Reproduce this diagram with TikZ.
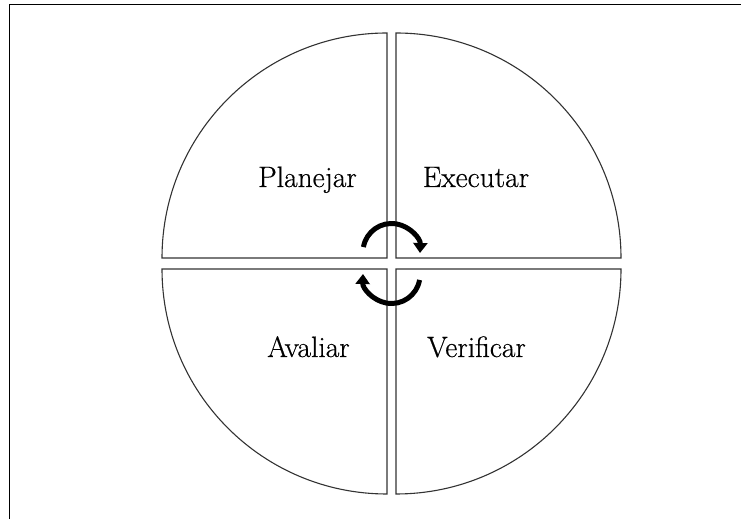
\documentclass[tikz,border=0pt]{standalone}
\usepackage{fontspec}
\usepackage{tikz}
\usetikzlibrary{arrows.meta,calc}
\newfontfamily\pdfont{Latin Modern Roman}[FakeBold=0.5]
\definecolor{pdink}{HTML}{000000}
\definecolor{pdline}{HTML}{333333}
\tikzset{
  pdquad/.style={draw=pdline, line width=1.1pt, fill=white},
  pdlabel/.style={font=\pdfont\fontsize{29.5}{35}\selectfont, text=pdink, inner sep=0pt, anchor=base},
  pdcycle/.style={-{Triangle[length=10pt,width=14pt]}, line width=5pt, draw=pdink},
  pdframe/.style={draw=pdink, line width=1pt}
}

\begin{document}
\begin{tikzpicture}[x=1pt, y=1pt]
\useasboundingbox (0,0) rectangle (741,519);
\draw[pdframe] (9,0) -- (9,514) -- (741,514);
\coordinate (tl) at (387,261);
\coordinate (tr) at (396,261);
\coordinate (bl) at (387,250);
\coordinate (br) at (396,250);
\draw[pdquad] (tl) -- ++(-225,0) arc[start angle=180, end angle=90, radius=225] -- cycle;
\draw[pdquad] (tr) -- ++(0,225) arc[start angle=90, end angle=0, radius=225] -- cycle;
\draw[pdquad] (br) -- ++(225,0) arc[start angle=0, end angle=-90, radius=225] -- cycle;
\draw[pdquad] (bl) -- ++(0,-225) arc[start angle=270, end angle=180, radius=225] -- cycle;
\node[pdlabel] (plan) at (307.5,332) {Planejar};
\node[pdlabel] (exec) at (476,332) {Executar};
\node[pdlabel] (eval) at (308.5,162) {Avaliar};
\node[pdlabel] (check) at (476.5,162) {Verificar};
\coordinate (up) at (391.5,267);
\coordinate (dn) at (391.5,244);
\draw[pdcycle] ($(up)+(170:28.5)$) arc[start angle=170, end angle=-2, radius=28.5];
\draw[pdcycle] ($(dn)+(-10:28.5)$) arc[start angle=-10, end angle=-182, radius=28.5];
\end{tikzpicture}
\end{document}
